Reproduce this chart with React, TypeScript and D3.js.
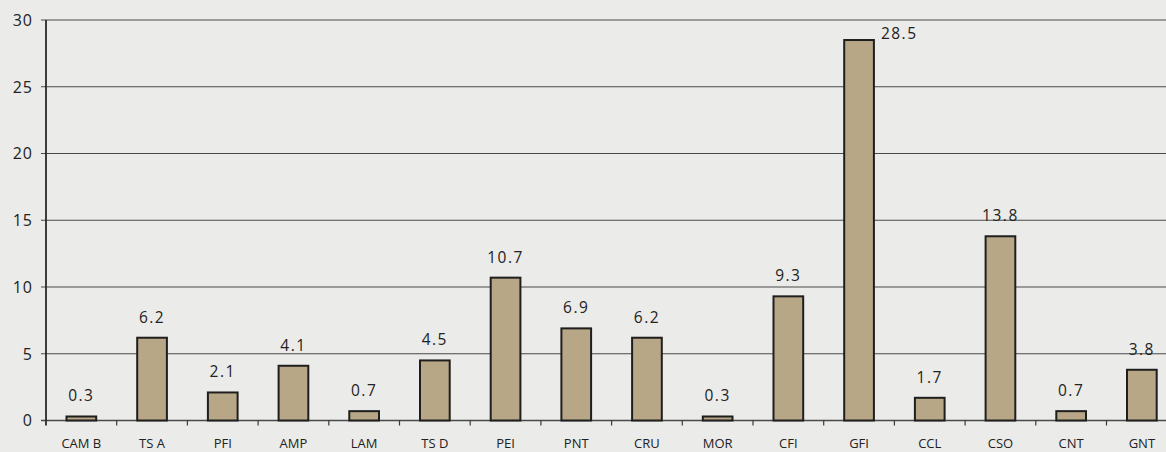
import React from "react";
import * as d3 from "d3";

const categories = ["CAM B", "TS A", "PFI", "AMP", "LAM", "TS D", "PEI", "PNT", "CRU", "MOR", "CFI", "GFI", "CCL", "CSO", "CNT", "GNT"];
const values = [0.3, 6.2, 2.1, 4.1, 0.7, 4.5, 10.7, 6.9, 6.2, 0.3, 9.3, 28.5, 1.7, 13.8, 0.7, 3.8];
const yTicks = [0, 5, 10, 15, 20, 25, 30];

const W = 1166;
const H = 452;
const FONT = "'Open Sans', 'Noto Sans', sans-serif";

export default function App() {
  const x0 = 46;
  const x = d3.scaleBand<string>().domain(categories).range([x0, x0 + 16 * 70.7]).padding(0);
  const y = d3.scaleLinear().domain([0, 30]).range([420.5, 20]);
  const bw = x.bandwidth();
  const barW = bw * 0.42;
  const boundaries = d3.range(1, categories.length + 1).map((i) => x0 + i * bw);

  return (
    <svg
      width={W}
      height={H}
      style={{ position: "absolute", left: 0, top: 0, display: "block", background: "#ebebe9" }}
    >
      <rect x={0} y={0} width={W} height={H} fill="#ebebe9" />
      {/* horizontal grid lines and y ticks */}
      {yTicks.map((t) => (
        <g key={t}>
          <line x1={41} x2={W} y1={y(t)} y2={y(t)} stroke="#4a4a4a" strokeWidth={t === 0 ? 1.6 : 1.2} />
          <text
            x={33}
            y={y(t)}
            dy="0.36em"
            textAnchor="end"
            fontFamily={FONT}
            fontSize={16}
            letterSpacing={1}
            fill="#222"
          >
            {t}
          </text>
        </g>
      ))}
      {/* y axis line */}
      <line x1={x0} x2={x0} y1={y(30)} y2={y(0) + 5} stroke="#2a2a2a" strokeWidth={1.8} />
      {/* x tick marks between categories */}
      {boundaries.map((bx, i) => (
        <line key={i} x1={bx} x2={bx} y1={y(0)} y2={y(0) + 5} stroke="#3a3a3a" strokeWidth={1.2} />
      ))}
      {/* bars */}
      {categories.map((c, i) => {
        const cx = (x(c) as number) + bw / 2;
        return (
          <rect
            key={c}
            x={cx - barW / 2}
            y={y(values[i])}
            width={barW}
            height={y(0) - y(values[i])}
            fill="#b8a787"
            stroke="#1e1e1e"
            strokeWidth={2}
          />
        );
      })}
      {/* value labels */}
      {categories.map((c, i) => {
        const cx = (x(c) as number) + bw / 2;
        const v = values[i];
        const outside = v > 27;
        return (
          <text
            key={c + "-v"}
            x={outside ? cx + barW / 2 + 7 : cx}
            y={outside ? y(v) - 1 : y(v) - 15}
            textAnchor={outside ? "start" : "middle"}
            fontFamily={FONT}
            fontSize={15.5}
            letterSpacing={1.5}
            fill="#222"
          >
            {v.toFixed(1)}
          </text>
        );
      })}
      {/* category labels */}
      {categories.map((c) => (
        <text
          key={c + "-l"}
          x={(x(c) as number) + bw / 2}
          y={448}
          textAnchor="middle"
          fontFamily={FONT}
          fontSize={13}
          fill="#222"
        >
          {c}
        </text>
      ))}
    </svg>
  );
}
